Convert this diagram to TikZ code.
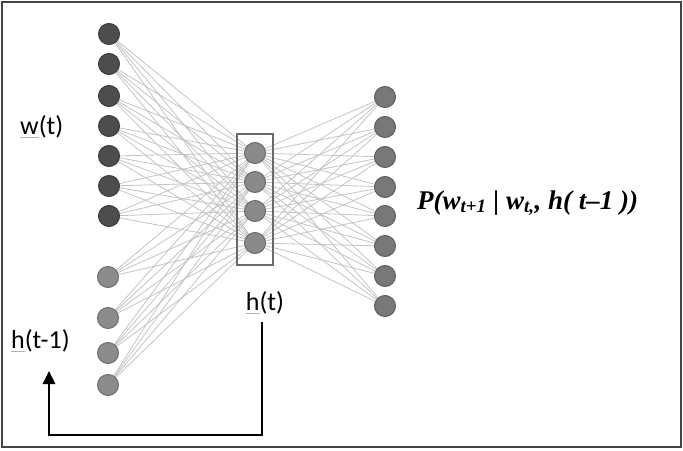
\documentclass[tikz,border=0pt]{standalone}
\usepackage{fontspec}
\setmainfont{Carlito}
\newfontfamily\timesf{Liberation Serif}
\usetikzlibrary{backgrounds,arrows.meta}
\definecolor{darkn}{HTML}{4D4D4D}
\definecolor{darknb}{HTML}{3C3C3C}
\definecolor{lightn}{HTML}{8C8C8C}
\definecolor{lightnb}{HTML}{6E6E6E}
\definecolor{hidn}{HTML}{8A8A8A}
\definecolor{hidnb}{HTML}{6A6A6A}
\definecolor{outn}{HTML}{787878}
\definecolor{outnb}{HTML}{5E5E5E}
\definecolor{edgec}{HTML}{C4C4C4}
\definecolor{framec}{HTML}{444444}
\newcommand\grayul[1]{\setbox0\hbox{#1}\rlap{\color{gray!60}\rule[-3pt]{\wd0}{1.2pt}}#1}
\begin{document}
\begin{tikzpicture}[x=1pt,y=-1pt,
  neuron/.style={circle,minimum size=21pt,inner sep=0pt,line width=1pt},
  wnode/.style={neuron,fill=darkn,draw=darknb},
  pnode/.style={neuron,fill=lightn,draw=lightnb},
  hnode/.style={neuron,fill=hidn,draw=hidnb},
  onode/.style={neuron,fill=outn,draw=outnb},
  edge/.style={draw=edgec,line width=0.8pt},
  lab/.style={font=\fontsize{26}{28}\selectfont,inner sep=0pt},
  feedback/.style={line width=2.6pt,black,-{Triangle[length=13pt,width=12pt]}}]
\useasboundingbox (0,0) rectangle (683,450);
\draw[framec,line width=2.5pt] (2,2) rectangle (681,447);
% left column
\foreach \y [count=\i] in {34,64,96,126,156,186,216}
  \node[wnode] (L\i) at (109,\y) {};
\foreach \y [count=\i from 8] in {277,318,353,385}
  \node[pnode] (L\i) at (108,\y) {};
% hidden
\foreach \y [count=\i] in {153,182,211,243}
  \node[hnode] (H\i) at (255,\y) {};
\node[draw=framec!80,line width=1.6pt,minimum width=36pt,minimum height=131pt,inner sep=0pt] (hbox) at (255,199.5) {};
% output
\foreach \y [count=\i] in {97,127,157,187,216,246,276,306}
  \node[onode] (R\i) at (385,\y) {};
\begin{scope}[on background layer]
  \foreach \i in {1,...,11}
    \foreach \j in {1,...,4}
      \draw[edge] (L\i.center) -- (H\j.center);
  \foreach \j in {1,...,4}
    \foreach \k in {1,...,8}
      \draw[edge] (H\j.center) -- (R\k.center);
\end{scope}
% labels
\node[lab,anchor=west] (wt) at (20,127) {\grayul{w}(t)};
\node[lab,anchor=west] (htm) at (11,341) {\grayul{h}(t-1)};
\node[lab] (ht) at (265,303) {\grayul{h}(t)};
\node[anchor=west,inner sep=0pt,font=\timesf\bfseries\itshape\fontsize{27}{29}\selectfont] (prob) at (417,203)
  {P(w\textsubscript{t+1} | w\textsubscript{t,}, h( t\textendash1 ))};
% feedback arrow
\coordinate (fa) at (262,322);
\coordinate (fb) at (262,435);
\coordinate (fc) at (49,435);
\coordinate (fd) at (49,371);
\draw[feedback] (fa) -- (fb) -- (fc) -- (fd);
\end{tikzpicture}
\end{document}
